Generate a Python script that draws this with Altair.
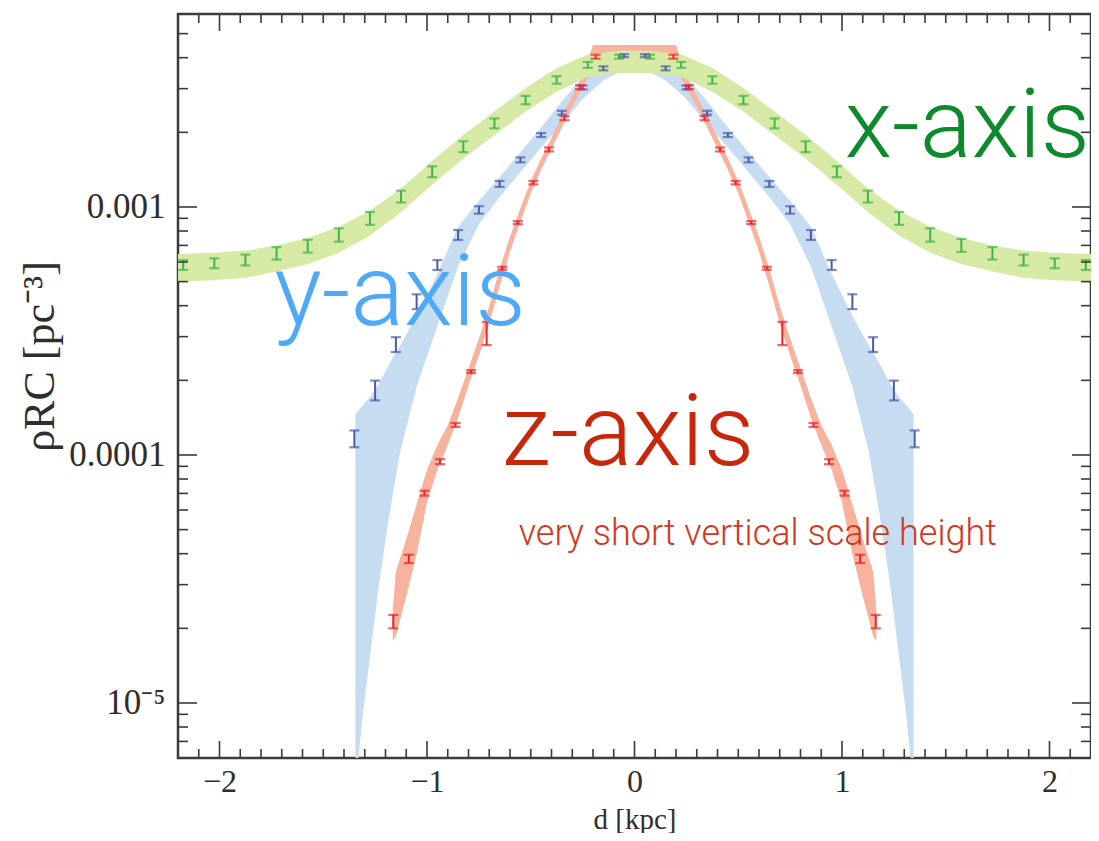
import altair as alt
import pandas as pd
import numpy as np

# ---------------- data (log10 of density in pc^-3) ----------------
green_d = [-2.175, -2.025, -1.875, -1.725, -1.575, -1.425, -1.275, -1.125, -0.975, -0.825,
           -0.675, -0.525, -0.375, -0.225, -0.075, 0.075, 0.225, 0.375, 0.525, 0.675,
           0.825, 0.975, 1.125, 1.275, 1.425, 1.575, 1.725, 1.875, 2.025, 2.175]
green_log = [-3.234, -3.227, -3.214, -3.187, -3.158, -3.113, -3.046, -2.958, -2.858, -2.757,
             -2.663, -2.569, -2.488, -2.427, -2.394, -2.394, -2.427, -2.488, -2.569, -2.663,
             -2.757, -2.858, -2.958, -3.046, -3.113, -3.155, -3.187, -3.214, -3.227, -3.234]
green_err = [0.020, 0.020, 0.022, 0.025, 0.026, 0.027, 0.026, 0.024, 0.022, 0.022,
             0.020, 0.017, 0.015, 0.012, 0.008, 0.008, 0.012, 0.015, 0.017, 0.020,
             0.022, 0.022, 0.024, 0.026, 0.027, 0.026, 0.025, 0.022, 0.020, 0.020]

blue_d = [-1.35, -1.25, -1.15, -1.05, -0.95, -0.85, -0.75, -0.65, -0.55, -0.45, -0.35, -0.25, -0.15, -0.05,
          0.05, 0.15, 0.25, 0.35, 0.45, 0.55, 0.65, 0.75, 0.85, 0.95, 1.05, 1.15, 1.25, 1.35]
blue_log = [-3.935, -3.740, -3.555, -3.382, -3.234, -3.113, -3.012, -2.907, -2.810, -2.710, -2.620, -2.518, -2.441, -2.390,
            -2.390, -2.441, -2.518, -2.620, -2.710, -2.810, -2.907, -3.012, -3.113, -3.234, -3.382, -3.555, -3.740, -3.935]
blue_err = [0.034, 0.040, 0.030, 0.030, 0.020, 0.020, 0.015, 0.012, 0.010, 0.008, 0.008, 0.008, 0.008, 0.006,
            0.006, 0.008, 0.008, 0.008, 0.008, 0.010, 0.012, 0.015, 0.020, 0.020, 0.030, 0.030, 0.040, 0.034]

red_d = [-1.1625, -1.0875, -1.0125, -0.9375, -0.8625, -0.7875, -0.7125, -0.6375, -0.5625, -0.4875, -0.4125, -0.3375, -0.2625, -0.1875,
         0.1875, 0.2625, 0.3375, 0.4125, 0.4875, 0.5625, 0.6375, 0.7125, 0.7875, 0.8625, 0.9375, 1.0125, 1.0875, 1.1625]
red_log = [-4.672, -4.419, -4.154, -4.027, -3.879, -3.664, -3.510, -3.247, -3.063, -2.902, -2.768, -2.642, -2.517, -2.394,
           -2.394, -2.517, -2.642, -2.768, -2.902, -3.063, -3.247, -3.510, -3.664, -3.879, -4.027, -4.154, -4.419, -4.672]
red_err = [0.027, 0.017, 0.010, 0.010, 0.008, 0.006, 0.047, 0.006, 0.006, 0.007, 0.008, 0.008, 0.008, 0.008,
           0.008, 0.008, 0.008, 0.008, 0.007, 0.006, 0.006, 0.047, 0.006, 0.008, 0.010, 0.010, 0.017, 0.027]

# model bands: upper / lower edges (log10)
gband_d = [-2.2, -2.025, -1.875, -1.725, -1.575, -1.425, -1.275, -1.125, -0.975, -0.825, -0.675, -0.525, -0.375, -0.225, -0.075, 0.0,
           0.075, 0.225, 0.375, 0.525, 0.675, 0.825, 0.975, 1.125, 1.275, 1.425, 1.575, 1.725, 1.875, 2.025, 2.2]
gband_hi = [-3.19, -3.185, -3.175, -3.155, -3.125, -3.08, -3.015, -2.925, -2.815, -2.71, -2.615, -2.52, -2.44, -2.385, -2.37, -2.37,
            -2.37, -2.385, -2.44, -2.52, -2.615, -2.71, -2.815, -2.925, -3.015, -3.08, -3.125, -3.155, -3.175, -3.185, -3.19]
gband_lo = [-3.30, -3.295, -3.285, -3.26, -3.23, -3.185, -3.115, -3.02, -2.91, -2.805, -2.71, -2.615, -2.535, -2.475, -2.46, -2.46,
            -2.46, -2.475, -2.535, -2.615, -2.71, -2.805, -2.91, -3.02, -3.115, -3.185, -3.23, -3.26, -3.285, -3.295, -3.30]

bband_d = [-1.345, -1.33, -1.31, -1.27, -1.23, -1.18, -1.13, -1.05, -0.95, -0.85, -0.75, -0.65, -0.55, -0.45, -0.35, -0.25, -0.15, -0.05, 0.0,
           0.05, 0.15, 0.25, 0.35, 0.45, 0.55, 0.65, 0.75, 0.85, 0.95, 1.05, 1.13, 1.18, 1.23, 1.27, 1.31, 1.33, 1.345]
bband_hi = [-3.835, -3.82, -3.80, -3.76, -3.71, -3.63, -3.56, -3.44, -3.27, -3.08, -2.975, -2.88, -2.78, -2.68, -2.575, -2.475, -2.41, -2.385, -2.38,
            -2.385, -2.41, -2.475, -2.575, -2.68, -2.78, -2.88, -2.975, -3.08, -3.27, -3.44, -3.56, -3.63, -3.71, -3.76, -3.80, -3.82, -3.835]
bband_lo = [-7.0, -5.22, -5.05, -4.78, -4.51, -4.235, -3.99, -3.725, -3.48, -3.24, -3.07, -2.96, -2.86, -2.76, -2.665, -2.565, -2.49, -2.445, -2.44,
            -2.445, -2.49, -2.565, -2.665, -2.76, -2.86, -2.96, -3.07, -3.24, -3.48, -3.725, -3.99, -4.235, -4.51, -4.78, -5.05, -5.22, -7.0]

rband_d = [-1.165, -1.15, -1.10, -1.05, -1.00, -0.95, -0.90, -0.85, -0.80, -0.75, -0.70, -0.65, -0.60, -0.55, -0.50, -0.45, -0.40, -0.35, -0.30, -0.25, -0.20,
           0.20, 0.25, 0.30, 0.35, 0.40, 0.45, 0.50, 0.55, 0.60, 0.65, 0.70, 0.75, 0.80, 0.85, 0.90, 0.95, 1.00, 1.05, 1.10, 1.15, 1.165]
rband_hi = [-4.62, -4.47, -4.34, -4.20, -4.06, -3.96, -3.88, -3.77, -3.65, -3.53, -3.40, -3.25, -3.12, -3.005, -2.895, -2.805, -2.72, -2.635, -2.55, -2.47, -2.347,
            -2.347, -2.47, -2.55, -2.635, -2.72, -2.805, -2.895, -3.005, -3.12, -3.25, -3.40, -3.53, -3.65, -3.77, -3.88, -3.96, -4.06, -4.20, -4.34, -4.47, -4.62]
rband_lo = [-4.75, -4.73, -4.57, -4.40, -4.19, -4.06, -3.96, -3.85, -3.72, -3.60, -3.47, -3.32, -3.18, -3.06, -2.945, -2.85, -2.765, -2.68, -2.595, -2.52, -2.44,
            -2.44, -2.52, -2.595, -2.68, -2.765, -2.85, -2.945, -3.06, -3.18, -3.32, -3.47, -3.60, -3.72, -3.85, -3.96, -4.06, -4.19, -4.40, -4.57, -4.73, -4.75]

x_labels = [-2, -1, 0, 1, 2]
y_labels = [1e-5, 1e-4, 1e-3]

notes = ["x-axis", "y-axis", "z-axis", "very short vertical scale height"]
note_d = [1.013, -1.736, -0.64, -0.558]
note_log = [-2.797, -3.476, -4.04, -4.363]

# ---------------- layout ----------------
W, H = 913, 744
XD = [-2.2, 2.2]
YD = [6.0e-6, 6.0e-3]

xs = alt.Scale(domain=XD, nice=False, zero=False)
ys = alt.Scale(type="log", domain=YD, nice=False)

SERIF = "Liberation Serif"
AX_COL = "#2e2e2e"

xaxis = alt.Axis(values=x_labels, ticks=False, domain=False, grid=False,
                 labelExpr="datum.value < 0 ? '\u2212' + abs(datum.value) : '' + datum.value",
                 labelFont=SERIF, labelFontSize=32, labelColor=AX_COL, labelPadding=8,
                 title="d [kpc]", titleFont=SERIF, titleFontSize=29, titleFontWeight="normal",
                 titleColor=AX_COL, titleY=70, titleBaseline="alphabetic")
yaxis = alt.Axis(values=y_labels, ticks=False, domain=False, grid=False,
                 labelExpr="datum.value < 0.00005 ? '10\u207b\u2075' : (datum.value < 0.0005 ? '0.0001' : '0.001')",
                 labelFont=SERIF, labelFontSize=35, labelColor=AX_COL, labelPadding=13,
                 title="\u03c1RC [pc\u207b\u00b3]", titleFont=SERIF, titleFontSize=44, titleFontWeight="normal",
                 titleColor=AX_COL, titleX=-116, titleY=342)


def X(f):
    return alt.X(f, type="quantitative", scale=xs, axis=xaxis)


def Y(f):
    return alt.Y(f, type="quantitative", scale=ys, axis=yaxis)


def pts(d, lg, er):
    lg = np.array(lg)
    er = np.array(er)
    return pd.DataFrame({"d": d, "v": 10 ** lg, "lo": 10 ** (lg - er), "hi": 10 ** (lg + er)})


def band(d, hi, lo):
    return pd.DataFrame({"d": d, "hi": 10 ** np.array(hi), "lo": 10 ** np.array(lo)})


layers = []

# bands
for df, col in [(band(bband_d, bband_hi, bband_lo), "#c6dcf1"),
                (band(rband_d, rband_hi, rband_lo), "#f7b39d"),
                (band(gband_d, gband_hi, gband_lo), "#d6e9a5")]:
    layers.append(alt.Chart(df).mark_area(color=col, clip=True, opacity=1).encode(
        x=X("d"), y=Y("hi"), y2="lo"))

# error bars
for df, col in [(pts(green_d, green_log, green_err), "#3db54a"),
                (pts(blue_d, blue_log, blue_err), "#4a5aab"),
                (pts(red_d, red_log, red_err), "#ec2229")]:
    base = alt.Chart(df)
    layers.append(base.mark_rule(color=col, strokeWidth=2, clip=True).encode(x=X("d"), y=Y("lo"), y2="hi"))
    layers.append(base.mark_tick(color=col, orient="horizontal", size=10, thickness=2.2, clip=True).encode(x=X("d"), y=Y("lo")))
    layers.append(base.mark_tick(color=col, orient="horizontal", size=10, thickness=2.2, clip=True).encode(x=X("d"), y=Y("hi")))

# inward tick marks on all four sides
x_minor = [round(v, 1) for v in np.arange(-2.1, 2.15, 0.1) if abs(round(v, 1) - round(v)) > 1e-6]
y_major = [1e-5, 1e-4, 1e-3]
y_minor = [m * 10.0 ** k for k in (-6, -5, -4, -3) for m in range(2, 10) if YD[0] <= m * 10.0 ** k <= YD[1]]

TK = dict(color="#3a3a3a", strokeWidth=1.6)
for vals, ln in [(x_labels, 17), (x_minor, 9)]:
    tdf = pd.DataFrame({"t": vals})
    layers.append(alt.Chart(tdf).mark_rule(**TK).encode(x=X("t"), y=alt.value(H), y2=alt.value(H - ln)))
    layers.append(alt.Chart(tdf).mark_rule(**TK).encode(x=X("t"), y=alt.value(0), y2=alt.value(ln)))
for vals, ln in [(y_major, 19), (y_minor, 10)]:
    tdf = pd.DataFrame({"t": vals})
    layers.append(alt.Chart(tdf).mark_rule(**TK).encode(y=Y("t"), x=alt.value(0), x2=alt.value(ln)))
    layers.append(alt.Chart(tdf).mark_rule(**TK).encode(y=Y("t"), x=alt.value(W), x2=alt.value(W - ln)))

# annotations
note_style = [("#0c8a2c", 97), ("#4ea9f7", 100), ("#c8270b", 100), ("#d2361c", 36)]
for i, txt in enumerate(notes):
    ndf = pd.DataFrame({"d": [note_d[i]], "v": [10 ** note_log[i]], "t": [txt]})
    col, fs = note_style[i]
    layers.append(alt.Chart(ndf).mark_text(align="left", baseline="alphabetic", font="Roboto",
                                           fontWeight=300, fontSize=fs, color=col).encode(
        x=X("d"), y=Y("v"), text="t:N"))

chart = alt.layer(*layers).properties(
    width=W, height=H,
    autosize=alt.AutoSizeParams(type="none"),
    padding={"left": 170, "top": 6, "right": 0, "bottom": 75},
    background="white",
).configure_view(stroke="#3c3c3c", strokeWidth=2.5)

chart.save("out.html", embed_options={"renderer": "svg", "actions": False})
